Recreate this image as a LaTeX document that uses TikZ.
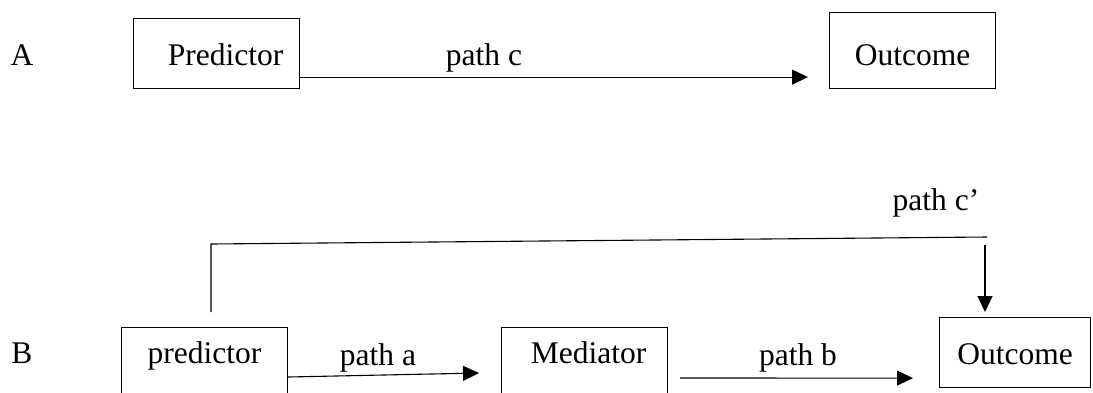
\documentclass[tikz,border=0pt]{standalone}
\usepackage{fontspec}
\setmainfont{Liberation Serif}
\usetikzlibrary{arrows.meta}
\begin{document}
\begin{tikzpicture}[x=1pt,y=-1pt,
  every node/.style={font=\fontsize{31.5}{38}\selectfont},
  box/.style={draw, line width=1.1pt, inner sep=0pt, anchor=north west},
  lbl/.style={anchor=base, inner sep=0pt},
  link/.style={line width=1.1pt},
  arr/.style={link, -{Triangle[length=16pt,width=15pt]}}]
\useasboundingbox (0,0) rectangle (1093,392);

% Row A: direct effect
\node[lbl] (labA) at (22,65) {A};
\node[box, minimum width=166pt, text height=47pt, text depth=23pt] (predA) at (133,18) {\hspace*{18pt}Predictor};
\node[box, minimum width=166pt, text height=53pt, text depth=23pt] (outA) at (829,12) {Outcome};
\draw[arr] ([yshift=12pt]predA.south east) -- ([xshift=-21pt,yshift=12pt]outA.south west);
\node[lbl] (pc) at (484,65) {path c};

% Row B: mediation model
\node[lbl] (labB) at (22,363) {B};
\node[box, minimum width=166pt, text height=36pt, text depth=30pt] (predB) at (121,327) {predictor};
\node[box, minimum width=166pt, text height=36pt, text depth=30pt] (medB) at (501,327) {\hspace*{8pt}Mediator};
\node[box, minimum width=151pt, text height=47pt, text depth=23pt] (outB) at (939,317) {Outcome};

\draw[arr] ([yshift=-50pt]predB.north east) -- ([xshift=-22pt,yshift=-46pt]medB.north west);
\node[lbl] (pa) at (378,365) {path a};
\draw[arr] ([xshift=12pt,yshift=-51pt]medB.north east) -- ([xshift=-26pt,yshift=10pt]outB.south west);
\node[lbl] (pb) at (798,365) {path b};

% indirect route c' over the top
\coordinate (cpTL) at (211,244);
\coordinate (cpTR) at (987,237);
\coordinate (cpDrop) at (985,245);
\draw[link] ([xshift=90pt,yshift=15pt]predB.north west) -- (cpTL) -- (cpTR);
\draw[arr] (cpDrop) -- ([xshift=46pt,yshift=5pt]outB.north west);
\node[lbl] (pcp) at (936,210) {path c’};
\end{tikzpicture}
\end{document}
